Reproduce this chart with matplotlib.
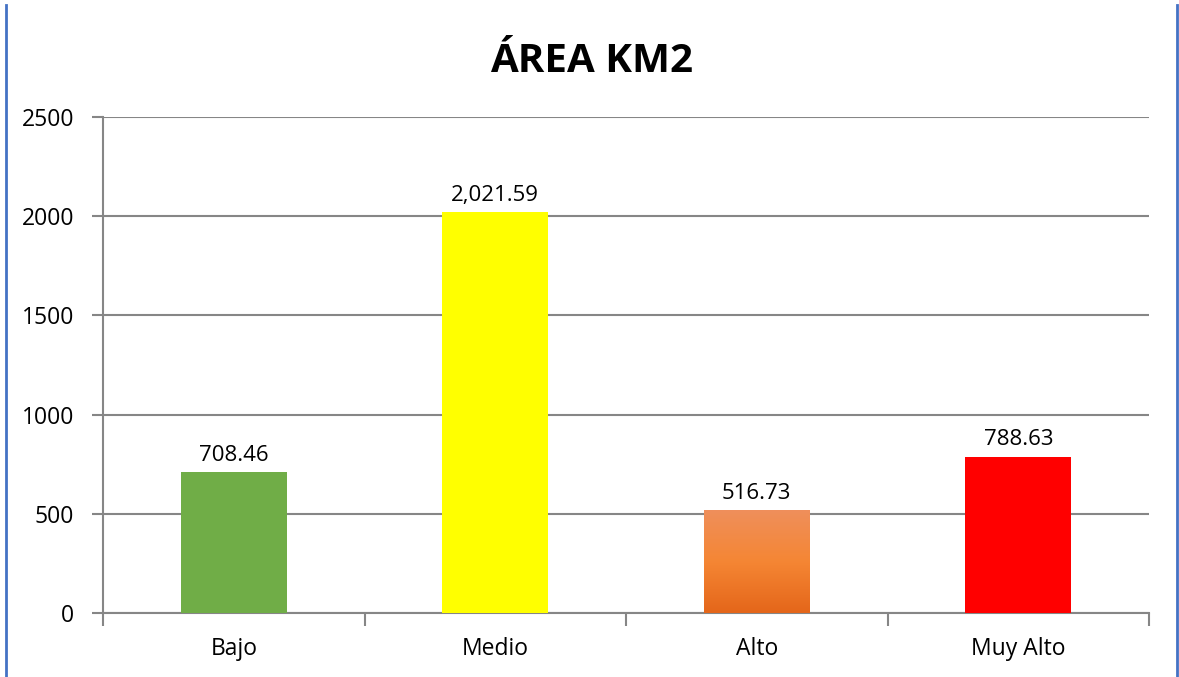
import matplotlib.pyplot as plt
import numpy as np
from matplotlib.lines import Line2D
from matplotlib.colors import LinearSegmentedColormap

categorias = ["Bajo", "Medio", "Alto", "Muy Alto"]
area = [708.46, 2021.59, 516.73, 788.63]
etiquetas = ["708.46", "2,021.59", "516.73", "788.63"]
colores = ["#70AD47", "#FFFF00", None, "#FF0000"]

plt.rcParams['font.family'] = ['Open Sans', 'DejaVu Sans']

fig = plt.figure(figsize=(11.79, 6.77), dpi=100)
ax = fig.add_axes([0.0874, 0.0945, 0.8872, 0.7327])

x = np.arange(len(categorias))
ancho = 0.405
barras = ax.bar(x, area, width=ancho, color=[c if c else "none" for c in colores],
                zorder=3)

# degradado naranja para "Alto"
cmap = LinearSegmentedColormap.from_list("naranja", ["#E4661A", "#F58634", "#EF8F5B"])
grad = np.linspace(0, 1, 256).reshape(-1, 1)
for b, c in zip(barras, colores):
    if c is None:
        ax.imshow(grad, cmap=cmap, origin="lower", aspect="auto", zorder=3,
                  extent=[b.get_x(), b.get_x() + b.get_width(), 0, b.get_height()])

for xi, v, t in zip(x, area, etiquetas):
    ax.annotate(t, (xi, v), xytext=(0, 8), textcoords="offset points",
                ha="center", va="baseline", fontsize=16, color="#000000")

ax.set_xlim(-0.5, 3.5)
ax.set_ylim(0, 2500)
ax.set_yticks([0, 500, 1000, 1500, 2000, 2500])
ax.set_xticks(np.arange(-0.5, 4, 1))
ax.set_xticklabels([])
ax.set_xticks(x, minor=True)
ax.set_xticklabels(categorias, minor=True, fontsize=16.5)
ax.tick_params(axis="x", which="major", length=9, width=1.5, color="#868686")
ax.tick_params(axis="x", which="minor", length=0, pad=17)
ax.tick_params(axis="y", length=8, width=1.5, color="#868686", labelsize=16.5, pad=13)

ax.grid(axis="y", color="#868686", linewidth=1.5, zorder=0)
ax.set_axisbelow(True)
for s in ["top", "right"]:
    ax.spines[s].set_visible(False)
for s in ["left", "bottom"]:
    ax.spines[s].set_color("#868686")
    ax.spines[s].set_linewidth(1.5)

fig.text(0.502, 1 - 72 / 677, "ÁREA KM2", ha="center", va="baseline",
         fontsize=29, fontweight="bold")

# bordes azules
fig.add_artist(Line2D([6 / 1179, 6 / 1179], [0, 1 - 5 / 677], color="#4472C4", linewidth=2))
fig.add_artist(Line2D([1177 / 1179, 1177 / 1179], [0, 1 - 5 / 677], color="#4472C4", linewidth=2))

fig.savefig("out.png", dpi=100)
